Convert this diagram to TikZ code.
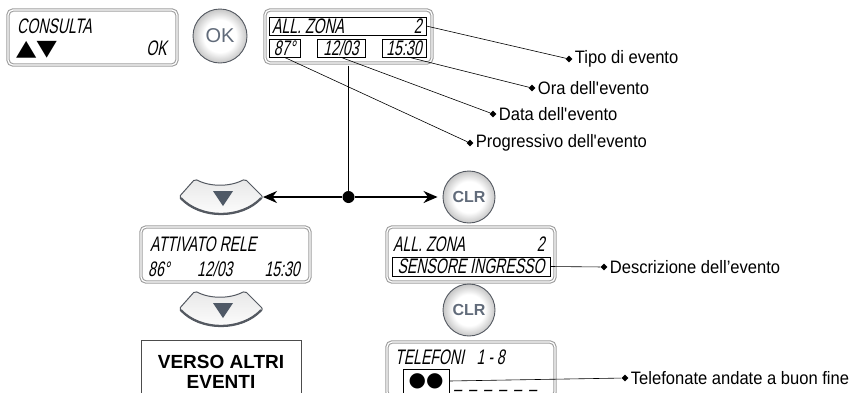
\documentclass[tikz,border=0pt]{standalone}
\usepackage{fontspec}
\setmainfont{Liberation Sans}
\newfontfamily\lcdfont{Liberation Sans}[FakeStretch=0.67,FakeSlant=0.2]
\newfontfamily\capfont{Liberation Sans}[FakeStretch=0.92]
\newfontfamily\symfont{DejaVu Sans}
\newfontfamily\arrowfont{DejaVu Sans}[FakeStretch=1.2]
\usepackage{tikz}
\usetikzlibrary{arrows.meta,shapes.geometric,positioning}
\definecolor{lcdgray}{rgb}{0.62, 0.62, 0.62}
\definecolor{keyrim}{rgb}{0.33, 0.35, 0.38}
\definecolor{keygray}{rgb}{0.31, 0.35, 0.40}
\definecolor{keytext}{rgb}{0.38, 0.42, 0.48}
\pgfdeclareradialshading{keyshade}{\pgfpoint{0bp}{0bp}}{%
  color(0bp)=(white); color(15bp)=(white); color(25bp)=(gray!45); color(50bp)=(gray!45)}
\tikzset{%
  lcd/.style={draw=lcdgray, double=white, double distance=1.2pt, line width=1.1pt, rounded corners=5pt},
  field/.style={draw=black, line width=0.7pt, inner sep=0pt, font=\lcdfont\fontsize{21}{21}\selectfont},
  lcdtext/.style={inner sep=0pt, font=\lcdfont\fontsize{21}{21}\selectfont},
  roundkey/.style={circle, draw=keyrim, line width=0.9pt, shading=keyshade,
    minimum size=52pt, inner sep=0pt, text=keytext},
  leader/.style={line width=0.6pt},
  pin/.style={diamond, fill=black, minimum size=7pt, inner sep=0pt},
  caption/.style={inner sep=1pt, font=\capfont\fontsize{18}{18}\selectfont},
  flow/.style={line width=1.8pt},
  dot/.style={circle, fill=black, minimum size=12pt, inner sep=0pt},
}

\begin{document}
\begin{tikzpicture}[x=1pt,y=-1pt]
  \useasboundingbox (0,0) rectangle (849,392);

  % first display and OK key
  \node[lcd, minimum width=169pt, minimum height=55pt] (dispA) at (92.5,37.5) {};
  \node[lcdtext, anchor=base west] (consulta) at (17,33) {CONSULTA};
  \node[anchor=base west, inner sep=0pt, font=\arrowfont\fontsize{22}{22}\selectfont] (updown) at (16,55) {▲▼};
  \node[lcdtext, anchor=base east] (okA) at (167,55) {OK};
  \node[roundkey, minimum size=54pt, font=\fontsize{20}{20}\selectfont] (okKey) at (220,36) {OK};

  % event display
  \node[lcd, minimum width=167pt, minimum height=53pt] (dispB) at (348.5,36.5) {};
  \node[field, minimum width=157pt, minimum height=18pt] (fZona) at (347.5,26) {};
  \node[lcdtext, anchor=base west] (zonaB) at (272,33) {ALL. ZONA};
  \node[lcdtext, anchor=base east] (numB) at (422,33) {2};
  \node[field, minimum width=31pt, minimum height=18pt] (fProg) at (284.5,48) {87°};
  \node[field, minimum width=48pt, minimum height=18pt] (fData) at (341,48) {12/03};
  \node[field, minimum width=44pt, minimum height=18pt] (fOra) at (404,48) {15:30};

  \node[pin] (pinTipo) at (569,59) {};
  \node[caption, right=1pt of pinTipo] (capTipo) {Tipo di evento};
  \node[pin] (pinOra) at (532,88) {};
  \node[caption, right=1pt of pinOra] (capOra) {Ora dell\textquotesingle evento};
  \node[pin] (pinData) at (493,114) {};
  \node[caption, right=1pt of pinData] (capData) {Data dell\textquotesingle evento};
  \node[pin] (pinProg) at (470,143) {};
  \node[caption, right=1pt of pinProg] (capProg) {Progressivo dell\textquotesingle evento};

  \draw[leader] (fZona.east) -- (pinTipo);
  \draw[leader] (fOra.-60) -- (pinOra);
  \draw[leader] (fData.south) -- (pinData);
  \draw[leader] (fProg.south) -- (pinProg);

  % down keys
  \foreach \y/\nm in {197/keyA, 309/keyB}
  {
    \shadedraw[top color=gray!18, bottom color=white, draw=keyrim, line width=1pt, rounded corners=2pt]
      (195,\y-18) .. controls (210,\y-10) and (230,\y-10) .. (245,\y-18)
      -- (263,\y) .. controls (242,\y+23) and (200,\y+23) .. (179,\y) -- cycle;
    \draw[keyrim, line width=1.8pt] (261,\y+1) .. controls (241,\y+22) and (201,\y+22) .. (181,\y+1);
    \fill[keygray] (213,\y-6) -- (233,\y-6) -- (223,\y+9) -- cycle;
    \coordinate (\nm) at (263,\y);
  }

  \node[roundkey, font=\bfseries\fontsize{16}{16}\selectfont] (clrA) at (469,197) {CLR};
  \node[dot] (junc) at (348.5,197) {};
  \draw[flow, shorten <=2pt] (dispB.south) -- (junc);
  \draw[flow, -{Stealth[length=14pt,width=12pt]}] (junc) -- (keyA);
  \draw[flow, -{Stealth[length=14pt,width=12pt]}, shorten >=5pt] (junc) -- (clrA);

  % next event
  \node[lcd, minimum width=169pt, minimum height=55pt] (dispC) at (225.5,254.5) {};
  \node[lcdtext, anchor=base west] (attivato) at (150,251) {ATTIVATO RELE};
  \node[lcdtext, anchor=base west] (progC) at (148,276) {86°};
  \node[lcdtext, anchor=base west] (dataC) at (197,276) {12/03};
  \node[lcdtext, anchor=base east] (oraC) at (300,276) {15:30};

  \node[draw=gray!60!black, line width=0.8pt, minimum width=160pt, minimum height=62pt, anchor=north,
    align=center, font=\bfseries\fontsize{19}{20}\selectfont] (verso) at (221,340) {VERSO ALTRI\\EVENTI};

  % description
  \node[lcd, minimum width=168pt, minimum height=55pt] (dispD) at (471,254.5) {};
  \node[lcdtext, anchor=base west] (zonaD) at (393,251) {ALL. ZONA};
  \node[lcdtext, anchor=base east] (numD) at (545,251) {2};
  \node[field, minimum width=158pt, minimum height=19pt] (fSensore) at (471,266.5) {SENSORE INGRESSO};
  \node[pin] (pinDescr) at (604,267) {};
  \node[caption, right=1pt of pinDescr] (capDescr) {Descrizione dell’evento};
  \draw[leader] (fSensore.east) -- (pinDescr);

  \node[roundkey, font=\bfseries\fontsize{16}{16}\selectfont] (clrB) at (469,310) {CLR};

  % phone calls
  \node[lcd, minimum width=168pt, minimum height=55pt] (dispE) at (471,369.5) {};
  \node[lcdtext, anchor=base west] (telefoni) at (395,364) {TELEFONI};
  \node[lcdtext, anchor=base east] (range) at (505,364) {1 - 8};
  \node[field, minimum width=46pt, minimum height=24pt, font=\symfont\fontsize{20}{20}\selectfont] (fTel) at (426,381) {●●};
  \foreach \i in {0,...,5}
    \node[lcdtext, anchor=base west] (dash\i) at (455+15*\i,387) {\_};
  \node[pin] (pinTel) at (625,378) {};
  \node[caption, right=1pt of pinTel] (capTel) {Telefonate andate a buon fine};
  \draw[leader] (fTel.east) -- (pinTel);
\end{tikzpicture}
\end{document}
